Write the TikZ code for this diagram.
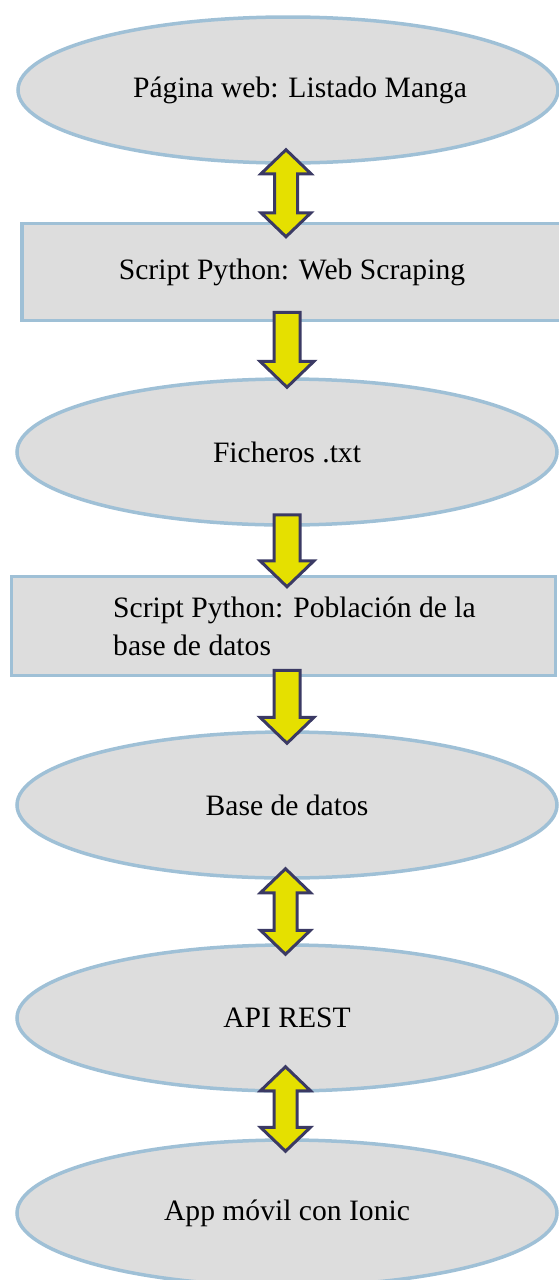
\documentclass[tikz,border=0pt]{standalone}
\usepackage{fontspec}
\setmainfont{Liberation Serif}
\usetikzlibrary{calc,shapes.geometric}
\definecolor{boxfill}{HTML}{DDDDDD}
\definecolor{boxline}{HTML}{9FC0D6}
\definecolor{arrfill}{HTML}{E5E000}
\definecolor{arrline}{HTML}{3B3A64}
\tikzset{
  oval/.style={ellipse, draw=boxline, fill=boxfill, line width=1.75pt,
    inner sep=0pt, minimum width=270pt, minimum height=73pt,
    font=\fontsize{14.8pt}{19pt}\selectfont},
  box/.style={rectangle, draw=boxline, fill=boxfill, line width=1.75pt,
    inner sep=0pt, font=\fontsize{14.8pt}{19pt}\selectfont},
  blockarr/.style={draw=arrline, fill=arrfill, line width=1.5pt, line join=miter}
}
% block arrows: #1 shaft top (or top tip), #2 bottom tip
\newcommand{\blockdown}[2]{%
  \draw[blockarr] ($(#1)+(-13,0)$) -- ($(#1)+(13,0)$) -- ($(#2)+(13,-26)$)
    -- ($(#2)+(27,-26)$) -- (#2) -- ($(#2)+(-27,-26)$) -- ($(#2)+(-13,-26)$) -- cycle;}
\newcommand{\blockboth}[2]{%
  \draw[blockarr] (#1) -- ($(#1)+(25,24)$) -- ($(#1)+(11.5,24)$) -- ($(#2)+(11.5,-24)$)
    -- ($(#2)+(25,-24)$) -- (#2) -- ($(#2)+(-25,-24)$) -- ($(#2)+(-11.5,-24)$)
    -- ($(#1)+(-11.5,24)$) -- ($(#1)+(-25,24)$) -- cycle;}

\begin{document}
\begin{tikzpicture}[x=0.5pt, y=-0.5pt]
  \useasboundingbox (0,0) rectangle (558,1280);

  \node[oval] (web) at (288,90) {\hspace*{12pt}Página web: Listado Manga};
  \node[box, minimum width=270pt, minimum height=48.5pt] (scrap) at (292,272) {Script Python: Web Scraping};
  \node[oval] (txt) at (287,452) {Ficheros .txt};
  \node[box, minimum width=272pt, minimum height=49.5pt, align=left] (pobl) at (283.5,626)
    {\hspace*{11pt}Script Python: Población de la\\\hspace*{11pt}base de datos};
  \node[oval] (bd) at (287,805) {Base de datos};
  \node[oval] (api) at (287,1018) {API REST};
  \node[oval] (app) at (287,1213) {App móvil con Ionic};

  % arrow ends, pushed a little into the shapes, kept upright
  \coordinate (w1) at ($(web.south)+(-2,-15)$);
  \coordinate (s1) at ($(w1 |- scrap.north)+(0,15)$);
  \coordinate (s2) at ($(txt.north |- scrap.south)+(0,-10)$);
  \coordinate (t1) at ($(txt.north)+(0,10)$);
  \coordinate (t2) at ($(txt.south)+(0,-12)$);
  \coordinate (p1) at ($(t2 |- pobl.north)+(0,12)$);
  \coordinate (p2) at ($(bd.north |- pobl.south)+(0,-7)$);
  \coordinate (b1) at ($(bd.north)+(0,13)$);
  \coordinate (b2) at ($(bd.south)+(-1.5,-11)$);
  \coordinate (a1) at ($(b2 |- api.north)+(0,11)$);
  \coordinate (a2) at ($(b2 |- api.south)+(0,-26)$);
  \coordinate (m1) at ($(b2 |- app.north)+(0,13)$);

  \blockboth{w1}{s1}
  \blockdown{s2}{t1}
  \blockdown{t2}{p1}
  \blockdown{p2}{b1}
  \blockboth{b2}{a1}
  \blockboth{a2}{m1}
\end{tikzpicture}
\end{document}
